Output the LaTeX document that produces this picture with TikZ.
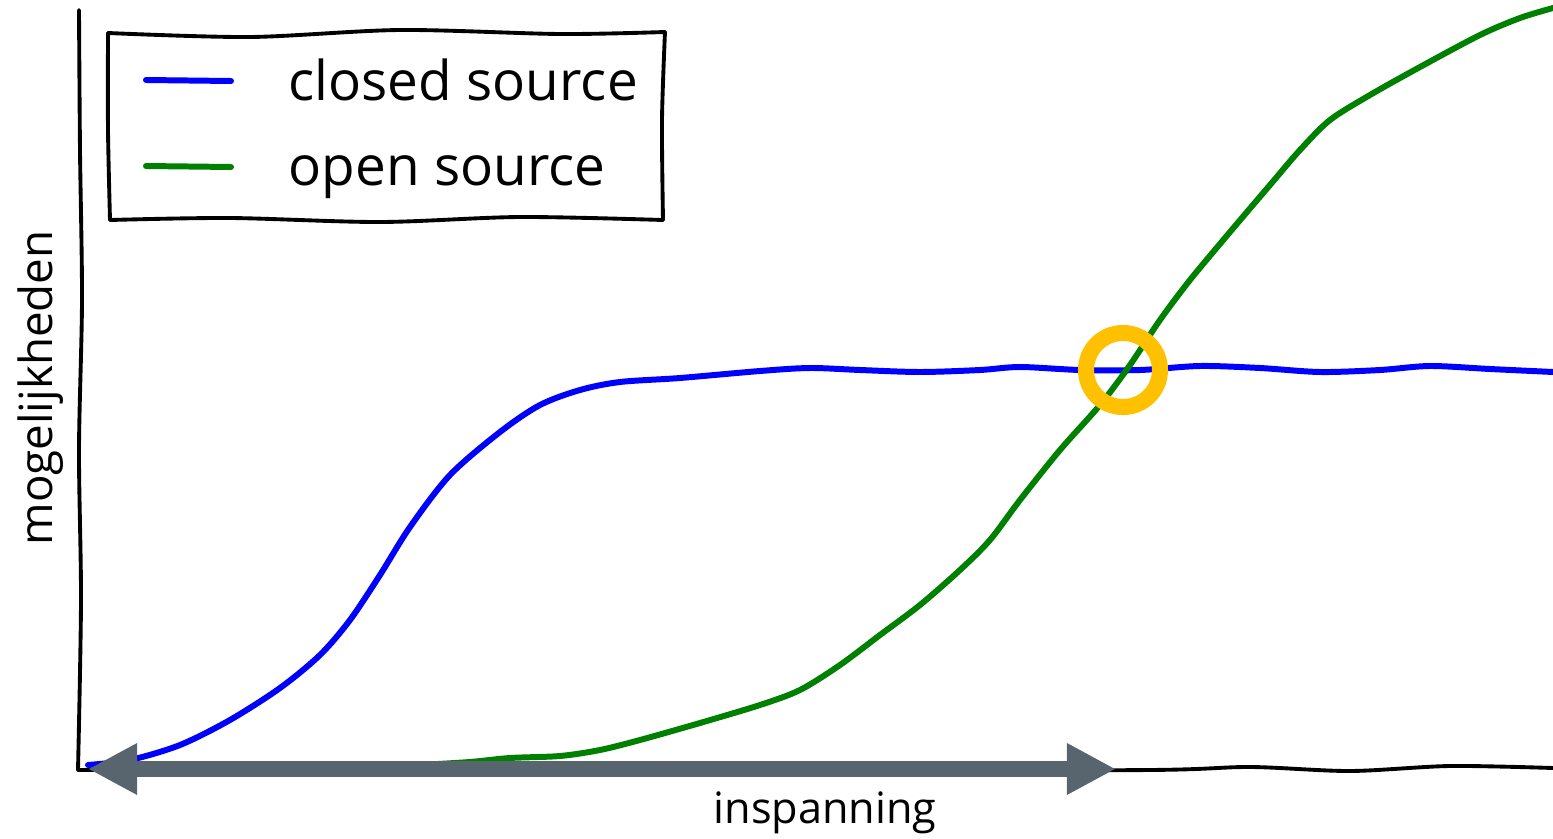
\documentclass[tikz,border=0pt]{standalone}
\usepackage{fontspec}
\setmainfont{Open Sans}
\usetikzlibrary{arrows.meta}
\definecolor{cblue}{RGB}{0,0,255}
\definecolor{cgreen}{RGB}{0,128,0}
\definecolor{cring}{RGB}{255,192,0}
\definecolor{cgray}{RGB}{88,100,110}
\tikzset{
  hand/.style={black,line width=1.1pt,line cap=round},
  curve/.style={line width=1.7pt,line cap=round},
  effort/.style={cgray,line width=0.16cm,arrows={Triangle[length=0.49cm,width=0.48cm]-Triangle[length=0.49cm,width=0.48cm]}},
  legtext/.style={anchor=base west,inner sep=0pt,font=\fontsize{15.6}{18}\selectfont}
}
\begin{document}
\begin{tikzpicture}[x=0.01cm,y=-0.01cm]
\useasboundingbox (0,0) rectangle (1553,839);
% axes
\draw[hand] plot[smooth] coordinates {(79,10) (80,150) (82,300) (79,450) (81,600) (78,770)};
\draw[hand] plot[smooth] coordinates {(78,770) (400,769) (800,771) (1150,770) (1250,767) (1350,771) (1450,766) (1553,768)};
\node[rotate=90,anchor=base,font=\fontsize{13}{15}\selectfont] (ylab) at (53,388) {mogelijkheden};
\node[anchor=base,font=\fontsize{12.3}{15}\selectfont] (xlab) at (825,823) {inspanning};
% legend
\draw[hand] plot[smooth] coordinates {(108,33) (250,37) (400,30) (560,34) (665,32)};
\draw[hand] plot[smooth] coordinates {(665,32) (662,120) (663,220)};
\draw[hand] plot[smooth] coordinates {(663,220) (520,217) (380,222) (230,218) (110,220)};
\draw[hand] plot[smooth] coordinates {(110,220) (108,130) (108,33)};
\draw[curve,cblue] (146,80) -- (231,81);
\draw[curve,cgreen] (146,166) -- (231,167);
\node[legtext] (lclosed) at (288,100) {closed source};
\node[legtext] (lopen) at (288,185) {open source};
% closed source
\draw[curve,cblue] plot[smooth] coordinates {(88,765) (130,760) (180,745) (230,720) (280,688) (320,655) (350,620) (380,575) (410,527) (450,475) (500,432) (540,405) (580,390) (620,382) (680,378) (760,371) (810,368) (860,370) (920,372) (980,370) (1020,367) (1080,370) (1140,370) (1200,366) (1260,368) (1320,372) (1380,370) (1430,366) (1490,369) (1553,372)};
% open source
\draw[curve,cgreen] plot[smooth] coordinates {(420,765) (470,762) (510,758) (560,756) (600,750) (640,740) (700,723) (760,705) (800,690) (840,665) (880,635) (920,605) (960,570) (990,540) (1020,500) (1060,450) (1100,405) (1130,365) (1160,320) (1190,280) (1230,232) (1270,185) (1300,150) (1330,120) (1370,95) (1420,67) (1480,35) (1520,18) (1553,8)};
% crossing point
\node[circle,draw=cring,line width=0.16cm,minimum size=0.74cm,inner sep=0pt] (meet) at (1123,370) {};
\coordinate (from) at (88,769);
\coordinate (to) at (1116,769);
\draw[effort] (from) -- (to);
\end{tikzpicture}
\end{document}
